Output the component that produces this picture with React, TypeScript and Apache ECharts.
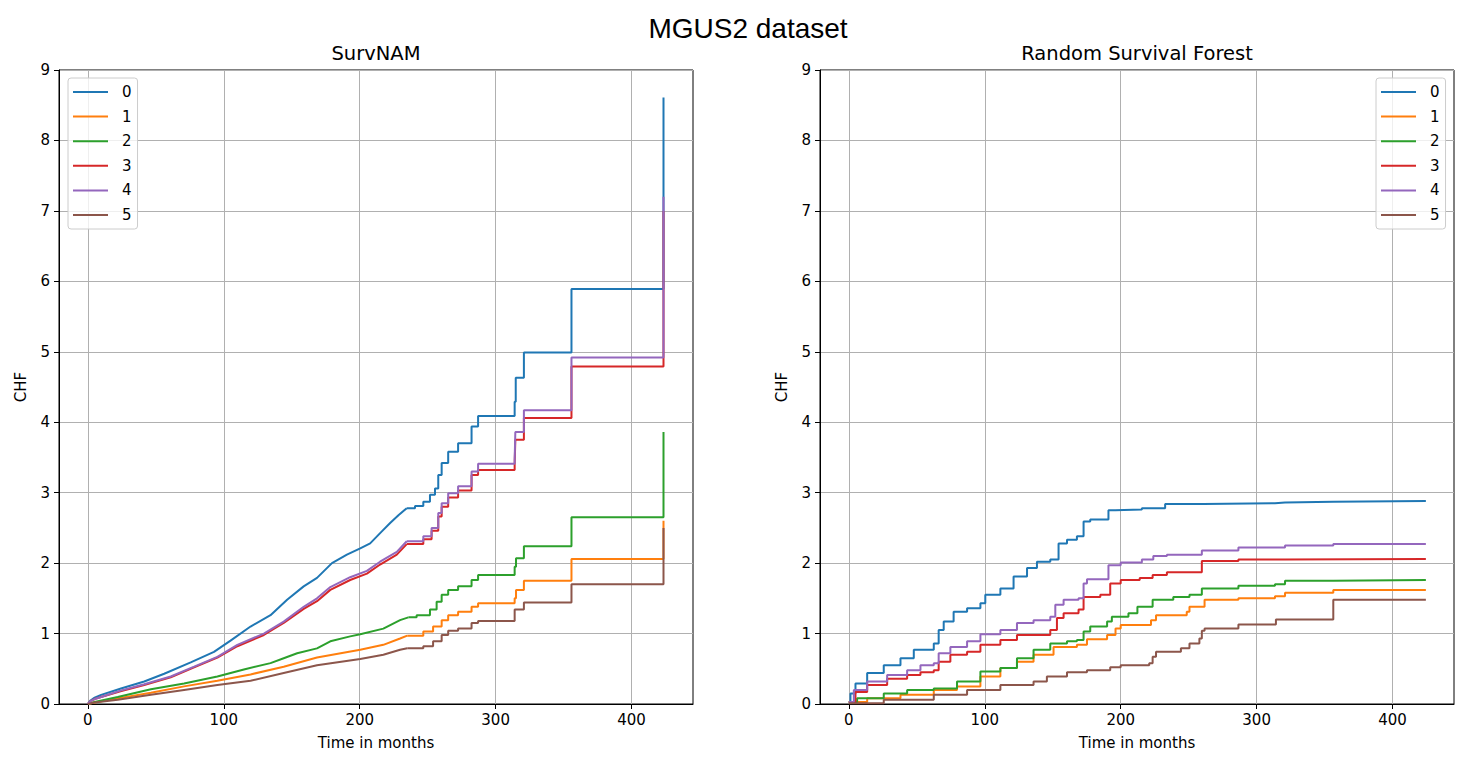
import React, { useEffect, useRef } from 'react';
import * as echarts from 'echarts';

const seriesNames = ['0', '1', '2', '3', '4', '5'];
const colors = ['#1f77b4', '#ff7f0e', '#2ca02c', '#d62728', '#9467bd', '#8c564b'];
const xTicks = [0, 100, 200, 300, 400];

// SurvNAM: fine-grained (near continuous) early parts
const namSmooth0: [number, number][] = [[0, 0], [2, 0.05], [5, 0.09], [9.8, 0.13], [24.4, 0.22], [41.5, 0.32], [56.2, 0.43], [75.7, 0.59], [92.8, 0.74], [105, 0.9], [119.7, 1.1], [134.4, 1.26], [146.6, 1.48], [158.8, 1.67], [168.6, 1.79], [179.6, 2.0], [190.6, 2.12], [200.4, 2.21], [207.7, 2.28], [216.3, 2.45], [222.4, 2.57], [228.5, 2.68], [234.6, 2.78]];
const namSmooth1: [number, number][] = [[0, 0], [5, 0.02], [22, 0.08], [46.4, 0.16], [70.8, 0.25], [95.3, 0.33], [119.7, 0.42], [144.1, 0.53], [168.6, 0.66], [200.4, 0.77], [217.4, 0.84], [229.7, 0.93], [235, 0.97]];
const namSmooth2: [number, number][] = [[0, 0], [5, 0.03], [22, 0.1], [46.4, 0.21], [70.8, 0.29], [95.3, 0.39], [114.8, 0.49], [134.4, 0.58], [144.1, 0.65], [154, 0.72], [168.6, 0.79], [178.4, 0.89], [193, 0.96], [200.4, 0.99], [217.4, 1.07], [229.7, 1.19], [235.8, 1.23]];
const namSmooth3: [number, number][] = [[0, 0], [2, 0.04], [5, 0.07], [9.8, 0.1], [24, 0.18], [41.5, 0.27], [61, 0.38], [78.2, 0.52], [95.3, 0.66], [110, 0.82], [129.5, 0.98], [144.1, 1.15], [158.8, 1.35], [168.6, 1.46], [178.4, 1.62], [193, 1.76], [205.3, 1.85], [215, 1.98], [227.3, 2.12], [234.6, 2.27]];
const namSmooth4: [number, number][] = [[0, 0], [2, 0.04], [5, 0.07], [9.8, 0.1], [24, 0.19], [41.5, 0.28], [61, 0.39], [78.2, 0.53], [95.3, 0.67], [110, 0.84], [129.5, 1.0], [144.1, 1.17], [158.8, 1.38], [168.6, 1.5], [178.4, 1.66], [193, 1.8], [205.3, 1.89], [215, 2.02], [227.3, 2.16], [234.6, 2.31]];
const namSmooth5: [number, number][] = [[0, 0], [5, 0.02], [22, 0.06], [46.4, 0.13], [70.8, 0.2], [95.3, 0.27], [119.7, 0.33], [144.1, 0.44], [168.6, 0.55], [200.4, 0.64], [217.4, 0.7], [229.7, 0.77], [235, 0.79]];

// SurvNAM: coarse steps later on
const namSteps0: [number, number][] = [[234.6, 2.78], [240.7, 2.81], [246.8, 2.87], [251.7, 2.97], [255.4, 3.06], [257.8, 3.25], [260.3, 3.42], [265.1, 3.58], [272.4, 3.7], [282.3, 3.94], [287.1, 4.09], [314, 4.29], [314.8, 4.63], [320.8, 4.99], [355.8, 5.89], [423.5, 8.61]];
const namSteps1: [number, number][] = [[235, 0.97], [246.8, 1.03], [254, 1.1], [260.3, 1.19], [265.1, 1.26], [272.4, 1.31], [282.3, 1.38], [287.1, 1.43], [314, 1.5], [315, 1.62], [320.8, 1.75], [355.8, 2.06], [423.5, 2.6]];
const namSteps2: [number, number][] = [[235.8, 1.23], [241.9, 1.26], [251.7, 1.34], [256.6, 1.45], [260.3, 1.55], [265.1, 1.62], [272.4, 1.67], [282.3, 1.76], [287.1, 1.83], [314, 1.95], [315, 2.07], [320.8, 2.24], [355.8, 2.65], [423.5, 3.86]];
const namSteps3: [number, number][] = [[234.6, 2.27], [246.8, 2.34], [252.9, 2.46], [257.8, 2.66], [260.3, 2.8], [265.1, 2.93], [272.4, 3.03], [282.3, 3.25], [287.1, 3.32], [314, 3.4], [314.5, 3.75], [320.8, 4.06], [355.8, 4.79], [423.5, 7.0]];
const namSteps4: [number, number][] = [[234.6, 2.31], [246.8, 2.38], [252.9, 2.5], [257.8, 2.71], [260.3, 2.85], [265.1, 2.99], [272.4, 3.09], [282.3, 3.3], [287.1, 3.41], [314, 3.47], [314.5, 3.86], [320.8, 4.17], [355.8, 4.92], [423.5, 7.2]];
const namSteps5: [number, number][] = [[235, 0.79], [246.8, 0.82], [254, 0.89], [260.3, 0.98], [265.1, 1.04], [272.4, 1.07], [282.3, 1.15], [287.1, 1.18], [314, 1.34], [320.8, 1.44], [355.8, 1.7], [423.5, 2.5]];

// Random Survival Forest
const rsf0: [number, number][] = [[0, 0.03], [1.2, 0.15], [4.9, 0.29], [13.5, 0.44], [25.7, 0.55], [38, 0.65], [47.8, 0.77], [62.5, 0.86], [66.1, 1.05], [69.8, 1.17], [77.1, 1.31], [87, 1.36], [96.8, 1.43], [100.4, 1.55], [111.5, 1.64], [121.2, 1.81], [131.1, 1.93], [138.4, 2.02], [148.2, 2.05], [154.3, 2.28], [160.5, 2.33], [167.8, 2.38], [172.7, 2.59], [177.6, 2.62], [191, 2.75], [196, 2.76], [215.6, 2.78], [232.7, 2.84], [260.8, 2.85], [313.5, 2.86], [320.9, 2.87], [356.4, 2.88], [424.5, 2.88]];
const rsf1: [number, number][] = [[0, 0.03], [13.5, 0.08], [38, 0.13], [62.5, 0.2], [79.6, 0.25], [96.8, 0.39], [111.5, 0.51], [123.7, 0.6], [135.9, 0.7], [150.6, 0.81], [167.8, 0.84], [175.2, 0.92], [190, 0.98], [196.2, 1.07], [200, 1.12], [222.3, 1.19], [226, 1.26], [248.6, 1.31], [250.6, 1.38], [261.7, 1.48], [286.6, 1.5], [313.5, 1.53], [320.9, 1.58], [356.4, 1.62], [424.5, 1.62]];
const rsf2: [number, number][] = [[0, 0.03], [6.1, 0.08], [25.7, 0.15], [42.9, 0.2], [62.5, 0.22], [79.6, 0.32], [96.8, 0.46], [111.5, 0.51], [123.7, 0.65], [135.9, 0.77], [148.2, 0.86], [160.5, 0.89], [167.8, 0.91], [172.7, 1.03], [177.6, 1.1], [190, 1.17], [193.5, 1.24], [205.7, 1.29], [212.3, 1.38], [223.5, 1.48], [238.7, 1.52], [250.6, 1.55], [259.7, 1.64], [286.6, 1.68], [313.5, 1.7], [320.9, 1.75], [356.4, 1.76], [424.5, 1.76]];
const rsf3: [number, number][] = [[0, 0.03], [4.9, 0.17], [13.5, 0.27], [28.2, 0.36], [42.9, 0.41], [52.7, 0.45], [62.5, 0.48], [66.1, 0.6], [74.7, 0.7], [87, 0.74], [96.8, 0.84], [111.5, 0.91], [123.7, 0.98], [148.2, 1.05], [153.1, 1.22], [158, 1.29], [169, 1.34], [172.7, 1.52], [185, 1.55], [192.3, 1.71], [200, 1.76], [214, 1.79], [223.5, 1.83], [234, 1.87], [259.7, 2.03], [286.6, 2.05], [320.9, 2.06], [424.5, 2.06]];
const rsf4: [number, number][] = [[0, 0.03], [3.7, 0.2], [13.5, 0.32], [28.2, 0.41], [42.9, 0.48], [52.7, 0.55], [62.5, 0.58], [66.1, 0.72], [74.7, 0.81], [87, 0.89], [96.8, 0.99], [111.5, 1.05], [123.7, 1.15], [135.9, 1.19], [148.2, 1.24], [151.9, 1.41], [158, 1.48], [169, 1.5], [172.7, 1.71], [175.2, 1.77], [191, 1.97], [200, 2.01], [215.6, 2.05], [224, 2.1], [234, 2.12], [259.7, 2.18], [286.6, 2.22], [320.9, 2.25], [356.4, 2.27], [424.5, 2.27]];
const rsf5: [number, number][] = [[0, 0.01], [25.7, 0.06], [62.5, 0.13], [87, 0.2], [111.5, 0.27], [135.9, 0.32], [145.7, 0.39], [160.5, 0.45], [175.2, 0.48], [192.3, 0.52], [200, 0.55], [221, 0.58], [223.5, 0.67], [226, 0.74], [244.3, 0.79], [250.6, 0.86], [257.9, 0.93], [259.7, 1.04], [261.7, 1.07], [286.6, 1.13], [314.2, 1.2], [356.4, 1.48], [424.5, 1.48]];

const namSmooth = [namSmooth0, namSmooth1, namSmooth2, namSmooth3, namSmooth4, namSmooth5];
const namSteps = [namSteps0, namSteps1, namSteps2, namSteps3, namSteps4, namSteps5];
const rsf = [rsf0, rsf1, rsf2, rsf3, rsf4, rsf5];

const TICK_FONT = 'DejaVu Sans';

function lineSeries(name: string, data: [number, number][], color: string, idx: number, step: boolean) {
  return {
    type: 'line',
    name,
    data,
    xAxisIndex: idx,
    yAxisIndex: idx,
    step: step ? 'end' : false,
    showSymbol: false,
    symbol: 'none',
    color,
    lineStyle: { color, width: 2 },
    itemStyle: { color },
    silent: true,
  };
}

function makeXAxis(idx: number) {
  return {
    type: 'value',
    gridIndex: idx,
    min: -21.2,
    max: 445.2,
    name: 'Time in months',
    nameLocation: 'middle',
    nameGap: 31,
    nameTextStyle: { fontSize: 15, fontFamily: TICK_FONT, color: '#000' },
    axisLine: { show: true, onZero: false, lineStyle: { color: '#000', width: 1 } },
    axisTick: { show: true, customValues: xTicks, length: 5, lineStyle: { color: '#000' } },
    axisLabel: { customValues: xTicks, fontSize: 15, fontFamily: TICK_FONT, color: '#000', margin: 8 },
    splitLine: { show: true, lineStyle: { color: '#b0b0b0', width: 1 } },
  };
}

function makeYAxis(idx: number) {
  return {
    type: 'value',
    gridIndex: idx,
    min: 0,
    max: 9,
    interval: 1,
    name: 'CHF',
    nameLocation: 'middle',
    nameGap: 31,
    nameRotate: 90,
    nameTextStyle: { fontSize: 15, fontFamily: TICK_FONT, color: '#000' },
    axisLine: { show: true, onZero: false, lineStyle: { color: '#000', width: 1 } },
    axisTick: { show: true, length: 5, lineStyle: { color: '#000' } },
    axisLabel: { fontSize: 15, fontFamily: TICK_FONT, color: '#000', margin: 9 },
    splitLine: { show: true, lineStyle: { color: '#b0b0b0', width: 1 } },
  };
}

function makeLegend(left: number) {
  return {
    data: seriesNames,
    left,
    top: 78,
    orient: 'vertical',
    icon: 'rect',
    itemWidth: 35,
    itemHeight: 2,
    itemGap: 8.6,
    selectedMode: false,
    padding: [6, 6, 6, 5],
    borderColor: '#cccccc',
    borderWidth: 1,
    borderRadius: 3,
    backgroundColor: 'rgba(255,255,255,0.8)',
    textStyle: { fontSize: 15, fontFamily: TICK_FONT, color: '#000', lineHeight: 16, padding: [0, 0, 0, 9] },
  };
}

export default function App() {
  const ref = useRef<HTMLDivElement>(null);
  useEffect(() => {
    if (!ref.current) return;
    const chart = echarts.init(ref.current, undefined, { renderer: 'svg' });
    const series: any[] = [];
    for (let i = 0; i < 6; i++) {
      series.push(lineSeries(seriesNames[i], namSmooth[i], colors[i], 0, false));
      series.push(lineSeries(seriesNames[i], namSteps[i], colors[i], 0, true));
    }
    for (let i = 0; i < 6; i++) {
      series.push(lineSeries(seriesNames[i], rsf[i], colors[i], 1, true));
    }
    chart.setOption({
      animation: false,
      backgroundColor: '#ffffff',
      grid: [
        { left: 59, top: 70, width: 634, height: 634, show: true, borderColor: '#000', borderWidth: 1, backgroundColor: 'transparent' },
        { left: 820, top: 70, width: 634, height: 634, show: true, borderColor: '#000', borderWidth: 1, backgroundColor: 'transparent' },
      ],
      xAxis: [makeXAxis(0), makeXAxis(1)],
      yAxis: [makeYAxis(0), makeYAxis(1)],
      legend: [makeLegend(68), makeLegend(1376)],
      graphic: [
        { type: 'text', x: 748, y: 28, style: { text: 'MGUS2 dataset', fontSize: 28, fontFamily: 'Liberation Sans', fill: '#000', textAlign: 'center', textVerticalAlign: 'middle' } },
        { type: 'text', x: 376, y: 53, style: { text: 'SurvNAM', fontSize: 19.5, fontFamily: TICK_FONT, fill: '#000', textAlign: 'center', textVerticalAlign: 'middle' } },
        { type: 'text', x: 1137, y: 53, style: { text: 'Random Survival Forest', fontSize: 19.5, fontFamily: TICK_FONT, fill: '#000', textAlign: 'center', textVerticalAlign: 'middle' } },
      ],
      series,
    });
    return () => chart.dispose();
  }, []);
  return <div ref={ref} style={{ position: 'absolute', left: 0, top: 0, width: 1476, height: 772 }} />;
}
